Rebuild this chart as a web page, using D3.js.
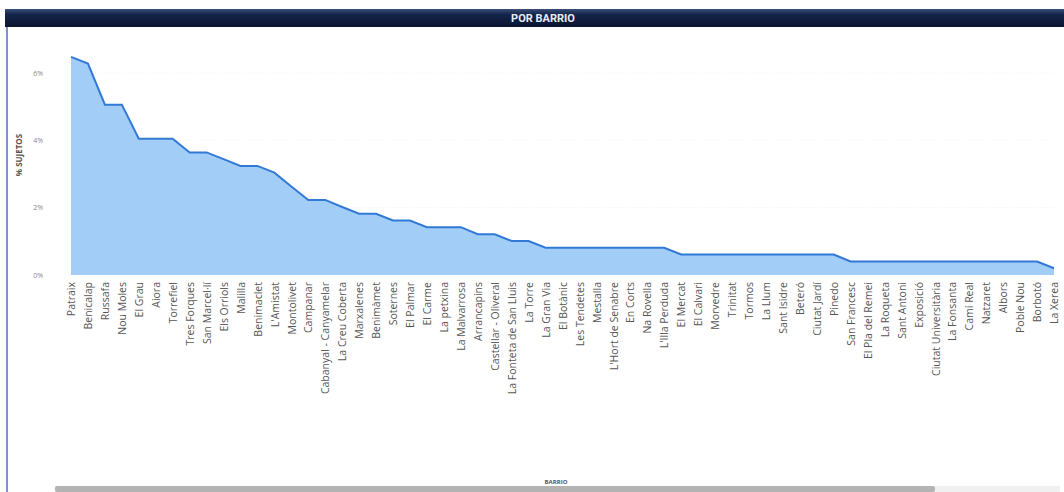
<!DOCTYPE html>
<html>
<head>
<meta charset="utf-8">
<script src="https://cdn.jsdelivr.net/npm/d3@7"></script>
<style>
  body { margin: 0; background: white; }
  svg { display: block; }
</style>
</head>
<body>
<div id="div1"></div>
<script>

// Neighbourhood names, in the order they are plotted
const barrios = [
    "Patraix", "Benicalap", "Russafa", "Nou Moles", "El Grau", "Aiora", "Torrefiel",
    "Tres Forques", "San Marcel·lí", "Els Orriols", "Malilla", "Benimaclet", "L'Amistat",
    "Montolivet", "Campanar", "Cabanyal - Canyamelar", "La Creu Coberta", "Marxalenes",
    "Benimàmet", "Soternes", "El Palmar", "El Carme", "La petxina", "La Malvarrosa",
    "Arrancapins", "Castellar - Oliveral", "La Fonteta de San Lluis", "La Torre",
    "La Gran Via", "El Botànic", "Les Tendetes", "Mestalla", "L'Hort de Senabre",
    "En Corts", "Na Rovella", "L'Illa Perduda", "El Mercat", "El Calvari", "Morvedre",
    "Trinitat", "Tormos", "La Llum", "Sant Isidre", "Beteró", "Ciutat Jardí", "Pinedo",
    "San Francesc", "El Pla del Remei", "La Roqueta", "Sant Antoni", "Exposició",
    "Ciutat Universitària", "La Fonsanta", "Camí Real", "Natzaret", "Albors",
    "Poble Nou", "Borbotó", "La Xerea"
];

// % of subjects per neighbourhood
const pctSujetos = [
    6.48, 6.28, 5.06, 5.06, 4.05, 4.05, 4.05,
    3.64, 3.64, 3.44, 3.24, 3.24, 3.04,
    2.63, 2.23, 2.23, 2.02, 1.82,
    1.82, 1.62, 1.62, 1.42, 1.42, 1.42,
    1.21, 1.21, 1.01, 1.01,
    0.81, 0.81, 0.81, 0.81, 0.81,
    0.81, 0.81, 0.81, 0.61, 0.61, 0.61,
    0.61, 0.61, 0.61, 0.61, 0.61, 0.61, 0.61,
    0.40, 0.40, 0.40, 0.40, 0.40,
    0.40, 0.40, 0.40, 0.40, 0.40,
    0.40, 0.40, 0.20
];

// Y axis ticks
const yTicks = [0, 2, 4, 6];

const data = barrios.map((b, i) => ({ barrio: b, pct: pctSujetos[i] }));

// Chart dimensions
const width = 1064;
const height = 492;
const plotLeft = 71;
const plotRight = 1054;
const plotBottom = 275;

let div1 = d3.select("#div1");

const svg1 = div1.append("svg")
    .attr("width", width)
    .attr("height", height);

svg1.append("rect")
    .attr("width", width)
    .attr("height", height)
    .attr("fill", "white");

// Header bar with gradient
const defs = svg1.append("defs");
const grad = defs.append("linearGradient")
    .attr("id", "headerGrad")
    .attr("x1", 0).attr("y1", 0).attr("x2", 0).attr("y2", 1);
grad.append("stop").attr("offset", "0%").attr("stop-color", "#3a4f7a");
grad.append("stop").attr("offset", "30%").attr("stop-color", "#14244a");
grad.append("stop").attr("offset", "100%").attr("stop-color", "#0a1530");

svg1.append("rect")
    .attr("x", 5)
    .attr("y", 9)
    .attr("width", width - 5)
    .attr("height", 18)
    .attr("fill", "url(#headerGrad)");

svg1.append("text")
    .attr("x", 543)
    .attr("y", 22)
    .attr("text-anchor", "middle")
    .attr("font-family", "Roboto, sans-serif")
    .attr("font-weight", "bold")
    .attr("font-size", "11px")
    .attr("fill", "#e8ecf4")
    .text("POR BARRIO");

// Panel left border
svg1.append("line")
    .attr("x1", 7).attr("x2", 7)
    .attr("y1", 27).attr("y2", height)
    .attr("stroke", "#7893cf")
    .attr("stroke-width", 2);

// Scales
const x = d3.scalePoint()
    .domain(barrios)
    .range([plotLeft, plotRight]);

const y = d3.scaleLinear()
    .domain([0, 7])
    .range([plotBottom, plotBottom - 7 * 33.67]);

// Faint gridlines
svg1.append("g")
    .selectAll("line")
    .data(yTicks.slice(1))
    .join("line")
    .attr("x1", plotLeft)
    .attr("x2", plotRight)
    .attr("y1", d => y(d))
    .attr("y2", d => y(d))
    .attr("stroke", "#f1f1f1")
    .attr("stroke-dasharray", "1,2");

// Y axis labels
const yAxis = svg1.append("g")
    .attr("transform", `translate(${plotLeft - 25},0)`)
    .call(d3.axisLeft(y).tickValues(yTicks).tickFormat(d => d + "%").tickSize(0));
yAxis.select(".domain").remove();
yAxis.selectAll("text")
    .attr("font-family", "Open Sans, sans-serif")
    .attr("font-size", "7px")
    .attr("fill", "#8a8a8a")
    .attr("dy", "0.32em");

svg1.append("text")
    .attr("transform", `translate(22,155) rotate(-90)`)
    .attr("text-anchor", "middle")
    .attr("font-family", "Open Sans, sans-serif")
    .attr("font-weight", "bold")
    .attr("font-size", "8px")
    .attr("fill", "#555")
    .text("% SUJETOS");

// Area and line
const area = d3.area()
    .x(d => x(d.barrio))
    .y0(plotBottom)
    .y1(d => y(d.pct));

const line = d3.line()
    .x(d => x(d.barrio))
    .y(d => y(d.pct));

svg1.append("path")
    .datum(data)
    .attr("d", area)
    .attr("fill", "#a2cdf7");

svg1.append("path")
    .datum(data)
    .attr("d", line)
    .attr("fill", "none")
    .attr("stroke", "#3279d6")
    .attr("stroke-width", 2);

// X axis category labels, rotated
const xAxis = svg1.append("g")
    .attr("transform", `translate(0,${plotBottom + 5})`)
    .call(d3.axisBottom(x).tickSize(0).tickPadding(0));
xAxis.select(".domain").remove();
xAxis.selectAll("text")
    .attr("transform", "rotate(-90)")
    .attr("text-anchor", "end")
    .attr("x", -2)
    .attr("y", 0)
    .attr("dy", "0.35em")
    .attr("font-family", "Open Sans, sans-serif")
    .attr("font-size", "10.5px")
    .attr("fill", "#555");

// X axis title
svg1.append("text")
    .attr("x", 556)
    .attr("y", 484)
    .attr("text-anchor", "middle")
    .attr("font-family", "Open Sans, sans-serif")
    .attr("font-weight", "bold")
    .attr("font-size", "6px")
    .attr("fill", "#555")
    .text("BARRIO");

// Scrollbar
svg1.append("rect")
    .attr("x", 55)
    .attr("y", 486)
    .attr("width", 1005)
    .attr("height", 6)
    .attr("fill", "#f0f0f0");

svg1.append("rect")
    .attr("x", 55)
    .attr("y", 486)
    .attr("width", 880)
    .attr("height", 6)
    .attr("rx", 2)
    .attr("fill", "#b3b3b3");

</script>
</body>
</html>
